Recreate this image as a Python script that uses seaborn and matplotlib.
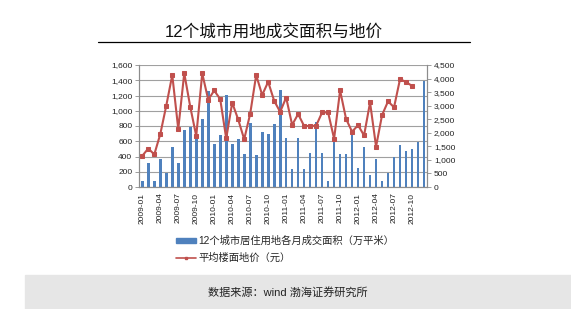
import numpy as np
import matplotlib
matplotlib.use("Agg")
import matplotlib.pyplot as plt
from matplotlib.patches import Rectangle
from matplotlib.lines import Line2D
import seaborn as sns

# monthly categories 2009-01 .. 2012-12
months = [f"{y}-{m:02d}" for y in range(2009, 2013) for m in range(1, 13)]

# residential land transaction area, 12 cities (10k m2)
area = [75, 320, 85, 370, 185, 530, 320, 745, 785, 665, 890, 1265,
        570, 685, 1205, 570, 630, 430, 835, 425, 725, 695, 825, 1270,
        638, 233, 638, 242, 449, 858, 449, 79, 616, 431, 431, 680,
        250, 527, 162, 365, 75, 189, 400, 550, 470, 497, 585, 1388]

# average floor price (yuan), last two months missing
price = [1150, 1420, 1200, 1950, 3000, 4130, 2140, 4200, 2960, 1880, 4190, 3220,
         3560, 3240, 1790, 3110, 2490, 1760, 2700, 4130, 3390, 3880, 3180, 2770,
         3300, 2290, 2690, 2250, 2250, 2260, 2750, 2750, 1780, 3560, 2510, 2040,
         2280, 1900, 3120, 1490, 2650, 3160, 2940, 3980, 3870, 3730]

bar_label = "12个城市居住用地各月成交面积（万平米）"
line_label = "平均楼面地价（元）"
title = "12个城市用地成交面积与地价"
source = "数据来源：wind 渤海证券研究所"

sns.set_style("white")
plt.rcParams['font.family'] = ['Liberation Sans', 'Noto Sans CJK SC', 'DejaVu Sans']

BLUE = "#4F81BD"
RED = "#C0504D"
AXC = "#8c8c8c"

W, H = 571, 309
fig = plt.figure(figsize=(W / 100, H / 100), dpi=100)
ax = fig.add_axes([139.3 / W, 1 - 187 / H, (427 - 139.3) / W, (187 - 65) / H])

sns.barplot(x=months, y=area, color=BLUE, width=0.45, saturation=1, linewidth=0,
            ax=ax, zorder=2)
ax2 = ax.twinx()
sns.lineplot(x=np.arange(len(price)), y=price, color=RED, lw=1.5, marker="s", markersize=2.6,
             markeredgecolor=RED, ax=ax2)

ax.set_xlim(-0.5, 47.5)
ax.set_ylim(0, 1600)
ax2.set_ylim(0, 4500)
ax.set_yticks(range(0, 1601, 200))
ax.set_yticklabels([f"{v:,}" for v in range(0, 1601, 200)])
ax2.set_yticks(range(0, 4501, 500))
ax2.set_yticklabels([f"{v:,}" for v in range(0, 4501, 500)])
ax.set_xticks(range(0, 48, 3))
ax.set_xticklabels(months[::3], rotation=90)
ax.set_xticks(np.arange(-0.5, 48, 1), minor=True)
ax.set_xlabel("")
ax.set_ylabel("")
ax2.set_ylabel("")

ax.yaxis.grid(True, color="#a0a0a0", lw=0.8)
ax.set_axisbelow(True)

for a in (ax, ax2):
    a.spines["top"].set_visible(False)
    for s in ("left", "right", "bottom"):
        a.spines[s].set_color(AXC)
        a.spines[s].set_linewidth(0.8)
ax.tick_params(axis="x", which="major", length=0, pad=4, labelsize=6, labelcolor="#222222")
ax.tick_params(axis="x", which="minor", length=3, color=AXC, width=0.6)
ax.tick_params(axis="y", length=3, color=AXC, width=0.6, labelsize=6, labelcolor="#222222", pad=2)
ax2.tick_params(axis="y", length=3, color=AXC, width=0.6, labelsize=6, labelcolor="#222222", pad=2)

# legend below the plot
handles = [Rectangle((0, 0), 1, 1, color=BLUE),
           Line2D([0], [0], color=RED, lw=1.2, marker="s", markersize=2)]
fig.legend(handles, [bar_label, line_label], loc="upper left",
           bbox_to_anchor=(176 / W, 1 - 236 / H), frameon=False, fontsize=7.4,
           handlelength=1.9, handleheight=0.45, labelspacing=0.65, handletextpad=0.3,
           borderpad=0, borderaxespad=0)

# title with rule underneath
fig.text(274 / W, 1 - 32 / H, title, ha="center", va="center", fontsize=12, color="#111111")
fig.add_artist(Line2D([98 / W, 470 / W], [1 - 42 / H, 1 - 42 / H], color="black", lw=0.9))

# grey source band
fig.add_artist(Rectangle((25 / W, 0), 1, 34 / H, transform=fig.transFigure,
                         color="#e6e6e6", zorder=0))
fig.text(288 / W, 1 - 292 / H, source, ha="center", va="center", fontsize=8, color="#222222")

fig.savefig("out.png", dpi=100)
